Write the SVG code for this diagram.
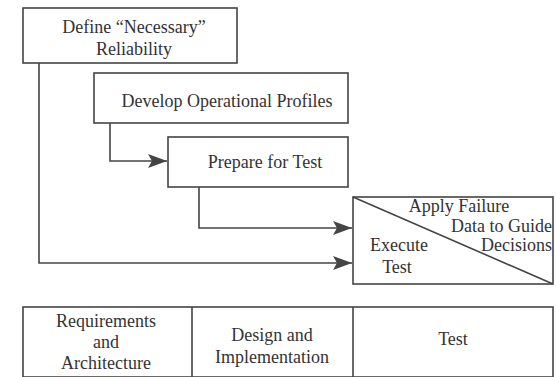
<svg xmlns="http://www.w3.org/2000/svg" width="556" height="377" viewBox="0 0 556 377">
<defs>
<style>
.box{fill:#fff;stroke:#444;stroke-width:1.6}
.ln{fill:none;stroke:#444;stroke-width:1.6}
.t{font-family:'Liberation Serif','Times New Roman',Tinos,'DejaVu Serif',serif;font-size:18px;fill:#333}
.c{text-anchor:middle}
.r{text-anchor:end}
</style>
<marker id="ah" markerWidth="20" markerHeight="14" refX="19" refY="7" orient="auto" markerUnits="userSpaceOnUse">
<path d="M0,0 L19,7 L0,14 L4,7 Z" fill="#444"/>
</marker>
</defs>
<rect width="556" height="377" fill="#fff"/>
<g id="connectors">
<path class="ln" d="M39,63 V263 H352" marker-end="url(#ah)"/>
<path class="ln" d="M110,123 V161 H167" marker-end="url(#ah)"/>
<path class="ln" d="M199,187 V228 H352" marker-end="url(#ah)"/>
</g>
<g id="define" class="t">
<rect class="box" x="23" y="8" width="214" height="55"/>
<text class="c" x="134" y="33">Define “Necessary”</text>
<text class="c" x="134" y="55">Reliability</text>
</g>
<g id="develop" class="t">
<rect class="box" x="94" y="73" width="254" height="50"/>
<text class="c" x="227" y="107">Develop Operational Profiles</text>
</g>
<g id="prepare" class="t">
<rect class="box" x="168" y="137" width="180" height="50"/>
<text class="c" x="265" y="168">Prepare for Test</text>
</g>
<g id="execute" class="t">
<rect class="box" x="353" y="197" width="200" height="87"/>
<line class="ln" x1="353" y1="197" x2="553" y2="284"/>
<text class="c" x="459" y="212">Apply Failure</text>
<text class="r" x="552" y="232">Data to Guide</text>
<text class="r" x="552" y="251">Decisions</text>
<text class="c" x="399" y="251">Execute</text>
<text class="c" x="397" y="273">Test</text>
</g>
<g id="phases" class="t">
<rect class="box" x="23" y="307" width="530" height="70"/>
<line class="ln" x1="192" y1="307" x2="192" y2="377"/>
<line class="ln" x1="353" y1="307" x2="353" y2="377"/>
<text class="c" x="106" y="327">Requirements</text>
<text class="c" x="106" y="348">and</text>
<text class="c" x="106" y="369">Architecture</text>
<text class="c" x="272" y="341">Design and</text>
<text class="c" x="272" y="363">Implementation</text>
<text class="c" x="453" y="345">Test</text>
</g>
</svg>
